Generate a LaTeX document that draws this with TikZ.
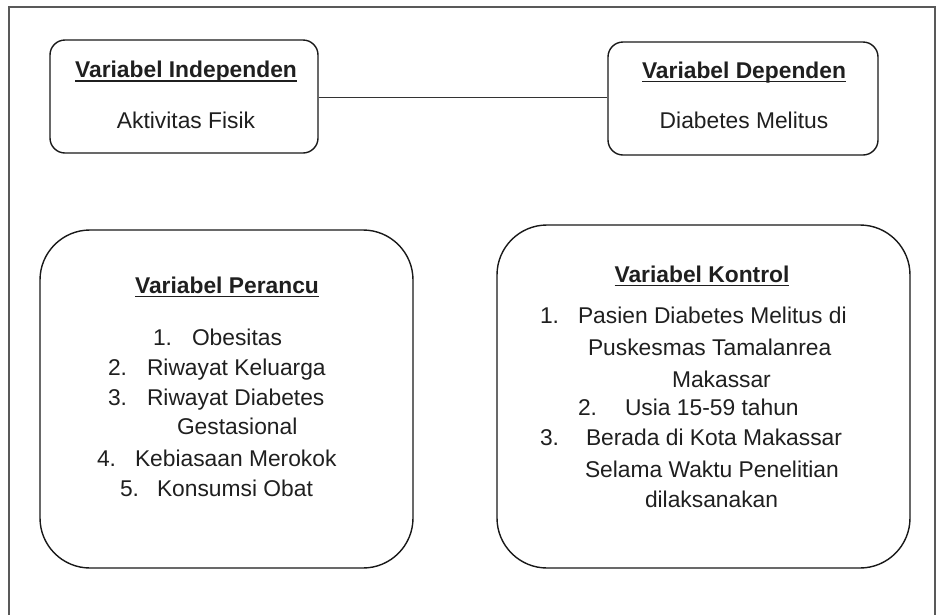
\documentclass[tikz,border=0pt]{standalone}
\usepackage{fontspec}
\setmainfont{Liberation Sans}
\begin{document}
\begin{tikzpicture}[x=1pt,y=-1pt,
  txt/.style={inner sep=0pt, outer sep=0pt, text=black!88, font=\fontsize{22.8}{27}\selectfont},
  ttl/.style={txt, font=\fontsize{22.8}{27}\selectfont\bfseries, anchor=base},
  bw/.style={txt, anchor=base west},
  smallbox/.style={draw=black!90, line width=1.4pt, rounded corners=15pt, inner sep=0pt},
  bigbox/.style={draw=black!90, line width=1.4pt, rounded corners=50pt, inner sep=0pt},
  uline/.style={line width=1.6pt, black!88}]
\useasboundingbox (0,0) rectangle (937,614);
% outer frame
\draw[line width=1.5pt, black!65] (9,616) -- (9,7) -- (935,7) -- (935,616);
% boxes
\node[smallbox, minimum width=268pt, minimum height=113pt] (b1) at (184,96.5) {};
\node[smallbox, minimum width=270pt, minimum height=113pt] (b2) at (743,98.5) {};
\node[bigbox, minimum width=373pt, minimum height=338pt] (b3) at (226.5,399) {};
\node[bigbox, minimum width=413pt, minimum height=343pt] (b4) at (703.5,396.5) {};
% connector
\draw[line width=0.9pt, black!80] (b1.east |- 0,97.5) -- (b2.west |- 0,97.5);
% titles
\node[ttl] (t1) at (186,77.5) {Variabel Independen};
\node[ttl] (t2) at (744,78) {Variabel Dependen};
\node[ttl] (t3) at (227,293) {Variabel Perancu};
\node[ttl] (t4) at (702,282) {Variabel Kontrol};
\foreach \t in {t1,t2,t3,t4}{\draw[uline] ([yshift=-3.5pt]\t.base west) -- ([yshift=-3.5pt]\t.base east);}
% contents
\node[txt, anchor=base] (a1) at (186,128) {Aktivitas Fisik};
\node[txt, anchor=base] (a2) at (744,128) {Diabetes Melitus};
% Perancu list
\node[bw] (p1n) at (153,345) {1.};
\node[bw] (p1) at (192,345) {Obesitas};
\node[bw] (p2n) at (108,375) {2.};
\node[bw] (p2) at (147,375) {Riwayat Keluarga};
\node[bw] (p3n) at (108,405) {3.};
\node[bw] (p3) at (147,405) {Riwayat Diabetes};
\node[bw] (p3b) at (177,434) {Gestasional};
\node[bw] (p4n) at (97,466) {4.};
\node[bw] (p4) at (135,466) {Kebiasaan Merokok};
\node[bw] (p5n) at (120,496) {5.};
\node[bw] (p5) at (157,496) {Konsumsi Obat};
% Kontrol list
\node[bw] (k1n) at (540,323) {1.};
\node[bw] (k1) at (578,323) {Pasien Diabetes Melitus di};
\node[bw] (k1b) at (588,355) {Puskesmas Tamalanrea};
\node[bw] (k1c) at (672,387) {Makassar};
\node[bw] (k2n) at (578,415) {2.};
\node[bw] (k2) at (625,415) {Usia 15-59 tahun};
\node[bw] (k3n) at (540,445) {3.};
\node[bw] (k3) at (586,445) {Berada di Kota Makassar};
\node[bw] (k3b) at (585,477) {Selama Waktu Penelitian};
\node[bw] (k3c) at (645,507) {dilaksanakan};
\end{tikzpicture}
\end{document}
